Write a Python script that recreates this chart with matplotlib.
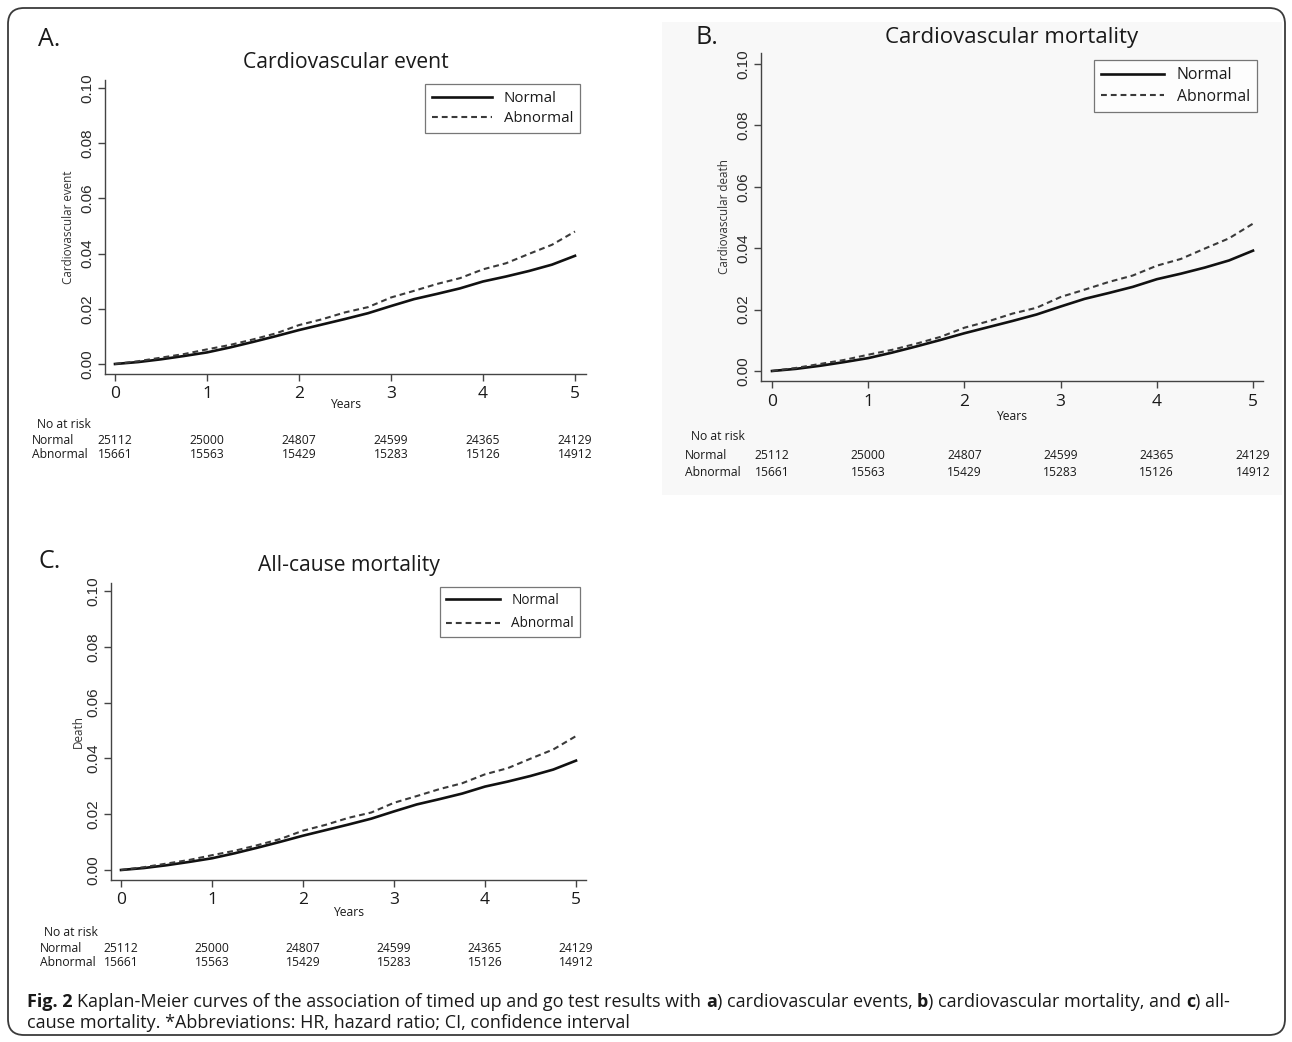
import matplotlib
matplotlib.use("Agg")
import matplotlib.pyplot as plt
from matplotlib import transforms
from matplotlib.patches import FancyBboxPatch, Rectangle

W, H = 1292, 1042

# Kaplan-Meier cumulative incidence (same in all panels)
YEARS = [0.0, 0.25, 0.5, 0.75, 1.0, 1.25, 1.5, 1.75, 2.0, 2.25, 2.5,
         2.75, 3.0, 3.25, 3.5, 3.75, 4.0, 4.25, 4.5, 4.75, 5.0]
NORMAL_RISK = [0.0, 0.0007, 0.0017, 0.0029, 0.0042, 0.0060, 0.0080, 0.0101,
               0.0123, 0.0143, 0.0163, 0.0184, 0.0210, 0.0235, 0.0254, 0.0274,
               0.0299, 0.0317, 0.0337, 0.0360, 0.0392]
ABNORMAL_RISK = [0.0, 0.0010, 0.0023, 0.0036, 0.0053, 0.0069, 0.0089, 0.0111,
                 0.0141, 0.0162, 0.0187, 0.0206, 0.0241, 0.0265, 0.0290, 0.0311,
                 0.0343, 0.0365, 0.0399, 0.0432, 0.0480]

RISK_YEARS = [0, 1, 2, 3, 4, 5]
AT_RISK_NORMAL = [25112, 25000, 24807, 24599, 24365, 24129]
AT_RISK_ABNORMAL = [15661, 15563, 15429, 15283, 15126, 14912]

Y_TICKS = [0.00, 0.02, 0.04, 0.06, 0.08, 0.10]
X_TICKS = [0, 1, 2, 3, 4, 5]

# pixel layout of the three panels
PANELS = [
    dict(letter="A.", title="Cardiovascular event", ylabel="Cardiovascular event",
         box=(105, 586, 80, 374), x0=115, x5=575, y0=364, y10=88,
         letter_xy=(38, 39), title_y=63, title_fs=15.2, ylabel_x=69, years_y=405,
         risk_head=(37, 425), risk_label_x=32, risk_rows=(441, 455),
         legend=(580, 84), legend_fs=10.8, legend_sp=0.35),
    dict(letter="B.", title="Cardiovascular mortality", ylabel="Cardiovascular death",
         box=(761, 1263, 53, 381), x0=772, x5=1253, y0=371, y10=64,
         letter_xy=(695, 37), title_y=37, title_fs=16, ylabel_x=725, years_y=416,
         risk_head=(691, 437), risk_label_x=685, risk_rows=(456, 472),
         legend=(1257, 60), legend_fs=11.4, legend_sp=0.35),
    dict(letter="C.", title="All-cause mortality", ylabel="Death",
         box=(111, 586, 583, 880), x0=121, x5=576, y0=870, y10=591,
         letter_xy=(38, 562), title_y=565, title_fs=15.2, ylabel_x=78, years_y=912,
         risk_head=(44, 932), risk_label_x=40, risk_rows=(948, 963),
         legend=(580, 587), legend_fs=9.8, legend_sp=0.6),
]

SANS = ["Open Sans", "DejaVu Sans"]
TICK_FONT = ["Liberation Sans", "DejaVu Sans"]
INK = "#1a1a1a"


def fx(x):
    return x / W


def fy(y):
    return 1 - y / H


def draw_panel(fig, p):
    left, right, top, bottom = p["box"]
    ax = fig.add_axes([fx(left), fy(bottom), fx(right) - fx(left), fy(top) - fy(bottom)])
    kx = 5.0 / (p["x5"] - p["x0"])
    ky = 0.10 / (p["y0"] - p["y10"])
    ax.set_xlim(-(p["x0"] - left) * kx, 5 + (right - p["x5"]) * kx)
    ax.set_ylim(-(bottom - p["y0"]) * ky, 0.10 + (p["y10"] - top) * ky)
    ax.patch.set_alpha(0)

    ax.plot(YEARS, NORMAL_RISK, color="#111111", lw=1.9, label="Normal",
            solid_joinstyle="round")
    ax.plot(YEARS, ABNORMAL_RISK, color="#3a3a3a", lw=1.5, dashes=(2.8, 1.9),
            label="Abnormal")

    for side in ("top", "right"):
        ax.spines[side].set_visible(False)
    for side in ("left", "bottom"):
        ax.spines[side].set_color("#444444")
        ax.spines[side].set_linewidth(1.0)

    ax.set_xticks(X_TICKS)
    ax.set_xticklabels([str(t) for t in X_TICKS], fontsize=12.5, family=SANS, color=INK)
    ax.set_yticks(Y_TICKS)
    ax.set_yticklabels([f"{t:.2f}" for t in Y_TICKS], fontsize=11, family=TICK_FONT,
                       color="#2a2a2a", rotation=90, va="center")
    ax.tick_params(axis="both", direction="out", length=5, width=1.0, color="#444444")
    ax.tick_params(axis="x", pad=4)
    ax.tick_params(axis="y", pad=3)

    cx = (left + right) / 2
    fig.text(fx(cx), fy(p["title_y"]), p["title"], ha="center", va="center",
             fontsize=p["title_fs"], family=SANS, color=INK)
    fig.text(fx(p["letter_xy"][0]), fy(p["letter_xy"][1]), p["letter"], ha="left",
             va="center", fontsize=18, family=SANS, color=INK)
    fig.text(fx(p["ylabel_x"]), fy((top + bottom) / 2), p["ylabel"], rotation=90,
             ha="center", va="center", fontsize=8.4, family=SANS, color="#333333")
    fig.text(fx(cx), fy(p["years_y"]), "Years", ha="center", va="center",
             fontsize=8.7, family=SANS, color=INK)

    leg = ax.legend(loc="upper right", bbox_to_anchor=(fx(p["legend"][0]), fy(p["legend"][1])),
                    bbox_transform=fig.transFigure, borderaxespad=0, frameon=True,
                    fancybox=False, handlelength=4.0, handletextpad=0.8,
                    borderpad=0.45, labelspacing=p["legend_sp"],
                    prop={"family": SANS, "size": p["legend_fs"]})
    leg.get_frame().set_edgecolor("#555555")
    leg.get_frame().set_linewidth(0.9)
    for txt in leg.get_texts():
        txt.set_color(INK)

    # number at risk table, columns follow the x scale
    trans = transforms.blended_transform_factory(ax.transData, fig.transFigure)
    fig.text(fx(p["risk_head"][0]), fy(p["risk_head"][1]), "No at risk", ha="left",
             va="center", fontsize=8.7, family=SANS, color=INK)
    for row_y, name, counts in zip(p["risk_rows"], ("Normal", "Abnormal"),
                                   (AT_RISK_NORMAL, AT_RISK_ABNORMAL)):
        fig.text(fx(p["risk_label_x"]), fy(row_y), name, ha="left", va="center",
                 fontsize=8.7, family=SANS, color=INK)
        for yr, n in zip(RISK_YEARS, counts):
            ax.text(yr, fy(row_y), str(n), transform=trans, ha="center", va="center",
                    fontsize=8.7, family=SANS, color=INK, clip_on=False)
    return ax


def draw_caption(fig, x_px, y_px, runs, size):
    renderer = fig.canvas.get_renderer()

    def width(s, weight):
        t = fig.text(0, 0, s, fontsize=size, fontweight=weight, family=SANS)
        w = t.get_window_extent(renderer).width
        t.remove()
        return w

    space = width("a a", "normal") - width("aa", "normal")
    x = x_px
    for text, weight in runs:
        lead = len(text) - len(text.lstrip(" "))
        trail = len(text) - len(text.rstrip(" "))
        x += lead * space
        core = text.strip(" ")
        t = fig.text(fx(x), fy(y_px), core, ha="left", va="center", fontsize=size,
                     fontweight=weight, family=SANS, color=INK)
        x += t.get_window_extent(renderer).width + trail * space


fig = plt.figure(figsize=(W / 100, H / 100), dpi=100)
fig.patch.set_facecolor("white")

# light grey background of panel B image
fig.patches.append(Rectangle((fx(662), fy(495)), fx(1282) - fx(662), fy(22) - fy(495),
                             transform=fig.transFigure, facecolor="#f8f8f8",
                             edgecolor="none", zorder=-5))

for panel in PANELS:
    draw_panel(fig, panel)

fig.canvas.draw()
CAPTION_1 = [("Fig. 2", "bold"),
             (" Kaplan-Meier curves of the association of timed up and go test results with ", "normal"),
             ("a", "bold"), (") cardiovascular events, ", "normal"),
             ("b", "bold"), (") cardiovascular mortality, and ", "normal"),
             ("c", "bold"), (") all-", "normal")]
CAPTION_2 = [("cause mortality. *Abbreviations: HR, hazard ratio; CI, confidence interval", "normal")]
draw_caption(fig, 27, 1002, CAPTION_1, 13)
draw_caption(fig, 27, 1023, CAPTION_2, 13)

# outer rounded frame
frame = FancyBboxPatch((8 / 100, (H - 1035) / 100), (1285 - 8) / 100, (1035 - 8) / 100,
                       boxstyle="round,pad=0,rounding_size=0.16",
                       transform=fig.dpi_scale_trans, facecolor="none",
                       edgecolor="#3a3a3a", linewidth=1.3, zorder=10)
fig.patches.append(frame)

fig.savefig("out.png", dpi=100)
